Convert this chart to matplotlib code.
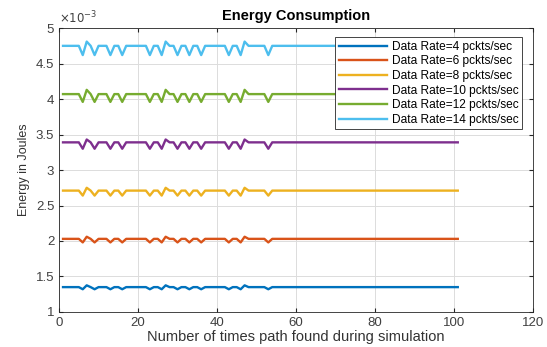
import matplotlib
matplotlib.use('Agg')
import matplotlib.pyplot as plt
from matplotlib.ticker import FuncFormatter

plt.rcParams['font.family'] = ['Liberation Sans', 'DejaVu Sans']

# x axis: number of times a path was found (1..101)
runs = list(range(1, 102))

# energy values, in units of 1e-3 Joules (first 54 runs vary, rest flat)
rate4 = [1.35, 1.35, 1.35, 1.35, 1.35, 1.32, 1.375, 1.35, 1.32, 1.35,
         1.35, 1.35, 1.32, 1.35, 1.35, 1.32, 1.35, 1.35, 1.35, 1.35,
         1.35, 1.35, 1.32, 1.35, 1.35, 1.32, 1.375, 1.35, 1.35, 1.32,
         1.35, 1.35, 1.32, 1.35, 1.35, 1.32, 1.35, 1.35, 1.35, 1.35,
         1.35, 1.35, 1.32, 1.35, 1.35, 1.32, 1.375, 1.35, 1.35, 1.35,
         1.35, 1.35, 1.32, 1.35] + [1.35] * 47
rate6 = [2.03, 2.03, 2.03, 2.03, 2.03, 1.98, 2.06, 2.03, 1.98, 2.03,
         2.03, 2.03, 1.98, 2.03, 2.03, 1.98, 2.03, 2.03, 2.03, 2.03,
         2.03, 2.03, 1.98, 2.03, 2.03, 1.98, 2.06, 2.03, 2.03, 1.98,
         2.03, 2.03, 1.98, 2.03, 2.03, 1.98, 2.03, 2.03, 2.03, 2.03,
         2.03, 2.03, 1.98, 2.03, 2.03, 1.98, 2.06, 2.03, 2.03, 2.03,
         2.03, 2.03, 1.98, 2.03] + [2.03] * 47
rate8 = [2.71, 2.71, 2.71, 2.71, 2.71, 2.64, 2.75, 2.71, 2.64, 2.71,
         2.71, 2.71, 2.64, 2.71, 2.71, 2.64, 2.71, 2.71, 2.71, 2.71,
         2.71, 2.71, 2.64, 2.71, 2.71, 2.64, 2.75, 2.71, 2.71, 2.64,
         2.71, 2.71, 2.64, 2.71, 2.71, 2.64, 2.71, 2.71, 2.71, 2.71,
         2.71, 2.71, 2.64, 2.71, 2.71, 2.64, 2.75, 2.71, 2.71, 2.71,
         2.71, 2.71, 2.64, 2.71] + [2.71] * 47
rate10 = [3.39, 3.39, 3.39, 3.39, 3.39, 3.30, 3.43, 3.39, 3.30, 3.39,
          3.39, 3.39, 3.30, 3.39, 3.39, 3.30, 3.39, 3.39, 3.39, 3.39,
          3.39, 3.39, 3.30, 3.39, 3.39, 3.30, 3.43, 3.39, 3.39, 3.30,
          3.39, 3.39, 3.30, 3.39, 3.39, 3.30, 3.39, 3.39, 3.39, 3.39,
          3.39, 3.39, 3.30, 3.39, 3.39, 3.30, 3.43, 3.39, 3.39, 3.39,
          3.39, 3.39, 3.30, 3.39] + [3.39] * 47
rate12 = [4.07, 4.07, 4.07, 4.07, 4.07, 3.96, 4.13, 4.07, 3.96, 4.07,
          4.07, 4.07, 3.96, 4.07, 4.07, 3.96, 4.07, 4.07, 4.07, 4.07,
          4.07, 4.07, 3.96, 4.07, 4.07, 3.96, 4.13, 4.07, 4.07, 3.96,
          4.07, 4.07, 3.96, 4.07, 4.07, 3.96, 4.07, 4.07, 4.07, 4.07,
          4.07, 4.07, 3.96, 4.07, 4.07, 3.96, 4.13, 4.07, 4.07, 4.07,
          4.07, 4.07, 3.96, 4.07] + [4.07] * 47
rate14 = [4.75, 4.75, 4.75, 4.75, 4.75, 4.62, 4.81, 4.75, 4.62, 4.75,
          4.75, 4.75, 4.62, 4.75, 4.75, 4.62, 4.75, 4.75, 4.75, 4.75,
          4.75, 4.75, 4.62, 4.75, 4.75, 4.62, 4.81, 4.75, 4.75, 4.62,
          4.75, 4.75, 4.62, 4.75, 4.75, 4.62, 4.75, 4.75, 4.75, 4.75,
          4.75, 4.75, 4.62, 4.75, 4.75, 4.62, 4.81, 4.75, 4.75, 4.75,
          4.75, 4.75, 4.62, 4.75] + [4.75] * 47

labels = ['Data Rate=4 pckts/sec', 'Data Rate=6 pckts/sec',
          'Data Rate=8 pckts/sec', 'Data Rate=10 pckts/sec',
          'Data Rate=12 pckts/sec', 'Data Rate=14 pckts/sec']
colors = ['#0072BD', '#D95319', '#EDB120', '#7E2F8E', '#77AC30', '#4DBEEE']
xticks = [0, 20, 40, 60, 80, 100, 120]
yticks = [1, 1.5, 2, 2.5, 3, 3.5, 4, 4.5, 5]

fig, ax = plt.subplots(figsize=(5.47, 3.47), dpi=100)
fig.subplots_adjust(left=0.108, right=0.974, bottom=0.101, top=0.919)

series = [rate4, rate6, rate8, rate10, rate12, rate14]
for vals, lab, col in zip(series, labels, colors):
    ax.plot(runs, vals, color=col, linewidth=1.7, label=lab)

ax.set_xlim(0, 120)
ax.set_ylim(1, 5)
ax.set_xticks(xticks)
ax.set_yticks(yticks)
ax.yaxis.set_major_formatter(FuncFormatter(lambda v, p: f'{v:g}'))
ax.grid(True, color='#dcdcdc', linewidth=0.7)
ax.set_axisbelow(True)
ax.tick_params(direction='in', top=True, right=True, length=3,
               labelsize=9.5, colors='#262626', labelcolor='#404040')
for sp in ax.spines.values():
    sp.set_color('#262626')
    sp.set_linewidth(0.6)

ax.text(0.0, 1.005, r'$\times10^{-3}$', transform=ax.transAxes,
        ha='left', va='bottom', fontsize=8.5, color='#404040')
ax.set_title('Energy Consumption', fontsize=10.5, fontweight='bold', pad=6)
ax.set_xlabel('Number of times path found during simulation', fontsize=10.5,
              color='#333333', labelpad=1)
ax.set_ylabel('Energy in Joules', fontsize=9, color='#333333', labelpad=4)

leg = ax.legend(loc='upper right', bbox_to_anchor=(0.977, 0.968),
                borderaxespad=0, fontsize=8.6, handlelength=4,
                labelspacing=0.22, fancybox=False, framealpha=1,
                edgecolor='#262626', borderpad=0.3, handletextpad=0.4)
leg.get_frame().set_linewidth(0.6)

fig.savefig('out.png', dpi=100)
